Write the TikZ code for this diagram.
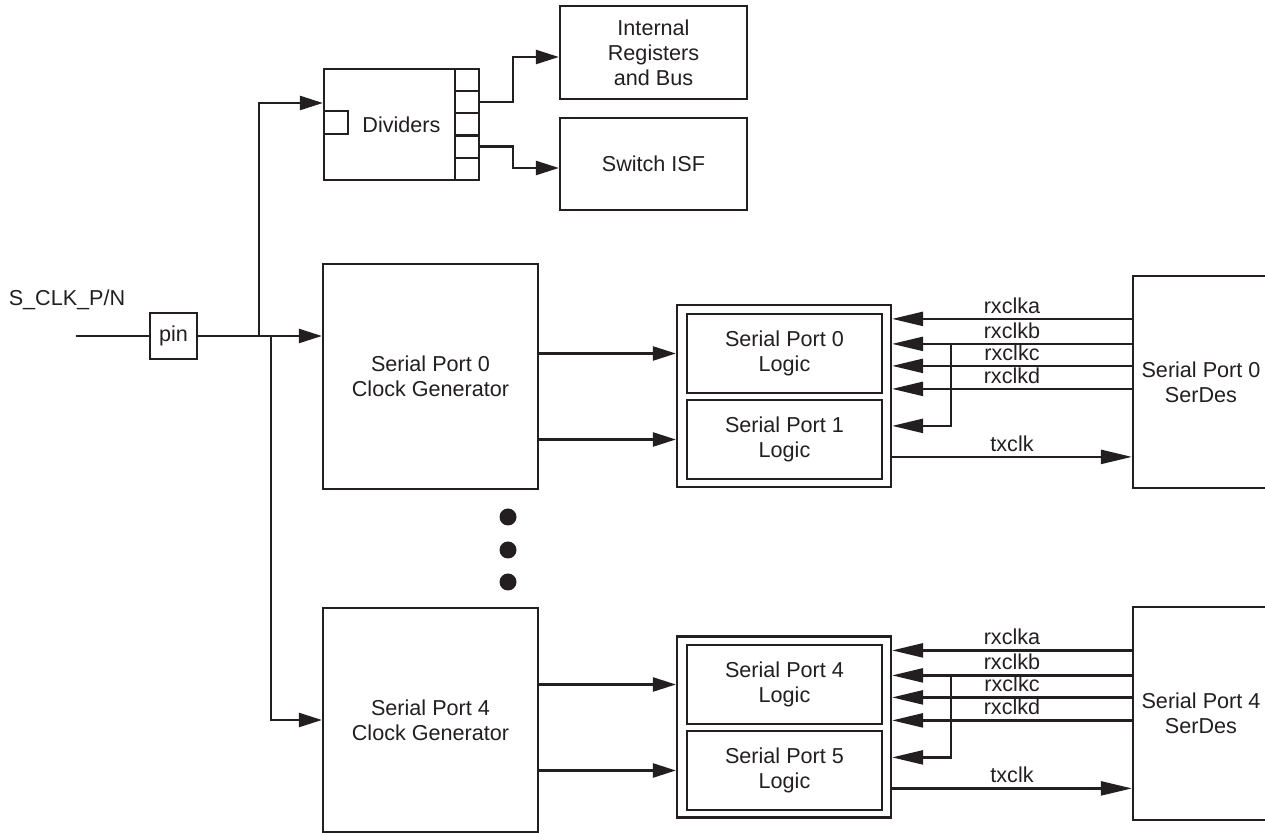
\documentclass[tikz,border=0pt]{standalone}
\usepackage{fontspec}
\setmainfont{Liberation Sans}
\usepackage{xcolor}
\usepackage{tikz}
\usetikzlibrary{arrows.meta,positioning}
\definecolor{ink}{HTML}{231F20}
\newcommand{\sigfont}{\fontsize{10.8pt}{12.5pt}\selectfont}
\tikzset{
  blk/.style={draw=ink, line width=1.1pt, fill=white, align=center, inner sep=0pt,
    font=\sigfont, text=ink},
  port/.style={draw=ink, line width=1.1pt, fill=white, minimum width=12pt,
    minimum height=11.1pt, inner sep=0pt},
  arr/.style={-{Triangle[length=11.5pt,width=7pt]}, line width=1.2pt, draw=ink},
  rxarr/.style={-{Triangle[length=15.5pt,width=7pt]}, line width=1.2pt, draw=ink},
  wire/.style={line width=1.2pt, draw=ink},
  sig/.style={above, inner sep=2pt, font=\sigfont, text=ink},
  dot/.style={circle, fill=ink, minimum size=8.5pt, inner sep=0pt},
}

\begin{document}
\begin{tikzpicture}[x=0.5pt, y=-0.5pt]
\useasboundingbox (0,0) rectangle (1265,833);
\clip (0,0) rectangle (1265,833);

% input pin
\node (sclk) at (67,300) [font=\sigfont, text=ink] {S\_CLK\_P/N};
\node[blk, minimum width=23.5pt, minimum height=23pt] (pin) at (173.5,336) {pin};
\coordinate (sin) at (76,336);

% dividers and their loads
\node[blk, minimum width=77.5pt, minimum height=55.5pt] (div) at (401.5,124.5) {Dividers};
\node[port, minimum height=11.5pt] (dl) at (336,122.5) {};
\foreach \i in {1,...,5}
  \node[port] (dp\i) at (467,{69+22.2*(\i-0.5)}) {};
\node[blk, minimum width=93.5pt, minimum height=46.5pt] (reg) at (653.5,52.5)
  {Internal\\Registers\\and Bus};
\node[blk, minimum width=93.5pt, minimum height=46pt] (isf) at (653.5,164) {Switch ISF};

% clock generators
\node[blk, minimum width=107.5pt, minimum height=112.5pt] (cg0) at (430.5,376.5)
  {Serial Port 0\\Clock Generator};
\node[blk, minimum width=107.5pt, minimum height=112pt] (cg4) at (430.5,720)
  {Serial Port 4\\Clock Generator};

% port logic
\node[blk, minimum width=107pt, minimum height=91pt] (fr0) at (784,396) {};
\node[blk, minimum width=97.5pt, minimum height=39.5pt] (lg0) at (784.5,353.5) {Serial Port 0\\Logic};
\node[blk, minimum width=97.5pt, minimum height=39.5pt] (lg1) at (784.5,439.5) {Serial Port 1\\Logic};
\node[blk, minimum width=107pt, minimum height=90.5pt] (fr4) at (784,727) {};
\node[blk, minimum width=97.5pt, minimum height=39.5pt] (lg4) at (784.5,684.5) {Serial Port 4\\Logic};
\node[blk, minimum width=97.5pt, minimum height=39.5pt] (lg5) at (784.5,770.5) {Serial Port 5\\Logic};

% serdes
\node[blk, minimum width=68pt, minimum height=106pt] (sd0) at (1201,382) {Serial Port 0\\SerDes};
\node[blk, minimum width=68pt, minimum height=106.5pt] (sd4) at (1201,713.5) {Serial Port 4\\SerDes};

% dots
\foreach \y [count=\i] in {517,550,582}
  \node[dot] (dot\i) at (508,\y) {};

% clock distribution
\coordinate (tapup) at ([xshift=30.5pt]pin.east);
\coordinate (tapdn) at ([xshift=36.5pt]pin.east);
\draw[wire] (sin) -- (pin.west);
\draw[arr] (pin.east) -- (cg0.west |- pin.east);
\draw[arr] (tapup) |- ([yshift=10.75pt]div.west);
\draw[arr] (tapdn) |- (cg4.west);
\draw[arr] (dp2.east) -- ++(33,0) |- ([yshift=-2.25pt]reg.west);
\draw[arr] (dp4.east) -- ++(33,0) |- ([yshift=-2pt]isf.west);

\foreach \n/\a/\b in {0/0/1, 4/4/5} {
  \draw[arr] (cg\n.east |- lg\a) -- (fr\n.west |- lg\a);
  \draw[arr] (cg\n.east |- lg\b) -- (fr\n.west |- lg\b);
  % receive and transmit clocks
  \foreach \lab/\dy in {rxclka/7.5, rxclkb/20, rxclkc/31, rxclkd/42.5, br/61, txclk/76.5}
    \coordinate (fr\n-\lab) at ([yshift=-\dy pt]fr\n.north east);
  \foreach \lab in {rxclka, rxclkb, rxclkc, rxclkd}
    \draw[rxarr] (sd\n.west |- fr\n-\lab) -- node[sig] {\lab} (fr\n-\lab);
  \coordinate (tap\n) at ([xshift=29.5pt]fr\n-rxclkb);
  \draw[rxarr] (tap\n) |- (fr\n-br);
  \draw[rxarr] (fr\n-txclk) -- node[sig] {txclk} (sd\n.west |- fr\n-txclk);
}
\end{tikzpicture}
\end{document}
